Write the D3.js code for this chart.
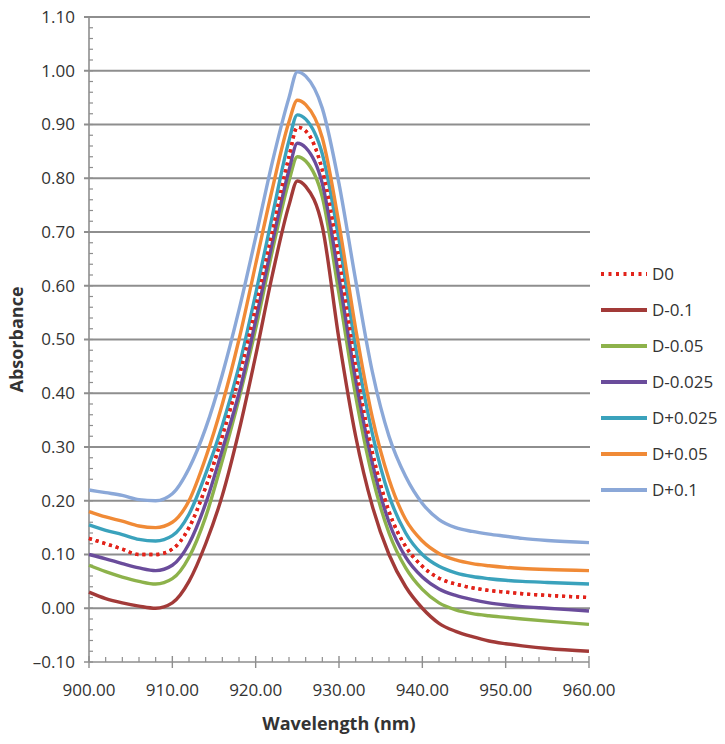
<!DOCTYPE html>
<html lang="en">
<head>
<meta charset="UTF-8">
<title>Absorbance</title>
<script src="https://cdn.jsdelivr.net/npm/d3@7"></script>
<style>
    body { margin: 0; padding: 0; background: white; font-family: "Open Sans", Arial, sans-serif; }
    .tick-label { font-size: 17px; fill: #333; }
    .axis-title { font-size: 18px; font-weight: bold; fill: #333; }
    .legend-label { font-size: 17px; fill: #333; }
</style>
</head>
<body>
<div id="chart"></div>
<script>
// wavelength grid (nm)
const wavelengths = [900, 902, 904, 906, 908, 910, 912, 914, 916, 918, 920, 922, 924, 925, 926, 928, 930, 932, 934, 936, 938, 940, 942, 944, 946, 948, 950, 952, 955, 960];

const seriesNames = ["D0", "D-0.1", "D-0.05", "D-0.025", "D+0.025", "D+0.05", "D+0.1"];
const seriesColors = ["#e2231a", "#a23a38", "#8db24b", "#6a4c9b", "#3aa2bc", "#f08a36", "#8ba8d8"];

const d0     = [0.130, 0.120, 0.110, 0.100, 0.100, 0.110, 0.150, 0.225, 0.320, 0.430, 0.560, 0.700, 0.840, 0.895, 0.888, 0.815, 0.650, 0.450, 0.290, 0.180, 0.115, 0.078, 0.056, 0.045, 0.038, 0.033, 0.030, 0.027, 0.024, 0.020];
const dm01   = [0.030, 0.018, 0.010, 0.004, 0.000, 0.010, 0.050, 0.120, 0.210, 0.330, 0.470, 0.620, 0.750, 0.795, 0.785, 0.710, 0.500, 0.320, 0.190, 0.100, 0.040, 0.000, -0.028, -0.043, -0.053, -0.061, -0.066, -0.070, -0.075, -0.080];
const dm005  = [0.080, 0.068, 0.058, 0.050, 0.045, 0.055, 0.095, 0.170, 0.275, 0.390, 0.520, 0.665, 0.795, 0.840, 0.832, 0.765, 0.585, 0.395, 0.245, 0.140, 0.075, 0.035, 0.010, -0.003, -0.010, -0.014, -0.017, -0.020, -0.024, -0.030];
const dm0025 = [0.100, 0.092, 0.083, 0.075, 0.070, 0.080, 0.120, 0.195, 0.295, 0.400, 0.535, 0.680, 0.815, 0.865, 0.857, 0.790, 0.615, 0.425, 0.270, 0.160, 0.095, 0.058, 0.036, 0.024, 0.016, 0.010, 0.006, 0.003, 0.000, -0.005];
const dp0025 = [0.155, 0.145, 0.137, 0.128, 0.125, 0.135, 0.175, 0.250, 0.340, 0.450, 0.585, 0.730, 0.870, 0.918, 0.910, 0.845, 0.685, 0.485, 0.325, 0.210, 0.140, 0.100, 0.078, 0.066, 0.059, 0.055, 0.052, 0.050, 0.048, 0.045];
const dp005  = [0.180, 0.170, 0.162, 0.153, 0.150, 0.160, 0.200, 0.280, 0.380, 0.500, 0.640, 0.780, 0.905, 0.945, 0.937, 0.875, 0.715, 0.520, 0.355, 0.240, 0.165, 0.125, 0.102, 0.090, 0.083, 0.079, 0.076, 0.074, 0.072, 0.070];
const dp01   = [0.220, 0.215, 0.210, 0.202, 0.200, 0.213, 0.260, 0.335, 0.435, 0.555, 0.690, 0.830, 0.950, 0.998, 0.990, 0.930, 0.790, 0.610, 0.440, 0.320, 0.245, 0.195, 0.165, 0.150, 0.143, 0.138, 0.134, 0.130, 0.126, 0.122];

const seriesValues = [d0, dm01, dm005, dm0025, dp0025, dp005, dp01];

const xTicks = [900, 910, 920, 930, 940, 950, 960];
const yTicks = [-0.10, 0.00, 0.10, 0.20, 0.30, 0.40, 0.50, 0.60, 0.70, 0.80, 0.90, 1.00, 1.10];

const width = 725, height = 744;
const margin = { left: 89, right: 136, top: 17, bottom: 82 };

const svg = d3.select("#chart").append("svg")
    .attr("width", width)
    .attr("height", height)
    .style("background", "white");

const x = d3.scaleLinear().domain([900, 960]).range([margin.left, width - margin.right]);
const y = d3.scaleLinear().domain([-0.10, 1.10]).range([height - margin.bottom, margin.top]);

const fmt = v => (v < 0 ? "\u2013" : "") + Math.abs(v).toFixed(2);

// horizontal gridlines (extend a little left of the axis like the major ticks)
svg.append("g").selectAll("line")
    .data(yTicks.filter(t => t > -0.10))
    .join("line")
    .attr("x1", x(900) - 5).attr("x2", x(960) + 1)
    .attr("y1", d => y(d)).attr("y2", d => y(d))
    .attr("stroke", "#8e8e8e").attr("stroke-width", 2);

// y axis with inner minor ticks
const yMinor = d3.range(-0.10, 1.10, 0.02);
svg.append("g").selectAll("line")
    .data(yMinor)
    .join("line")
    .attr("x1", x(900)).attr("x2", x(900) + 4)
    .attr("y1", d => y(d)).attr("y2", d => y(d))
    .attr("stroke", "#8e8e8e").attr("stroke-width", 1.2);

svg.append("line")
    .attr("x1", x(900)).attr("x2", x(900))
    .attr("y1", y(1.10)).attr("y2", y(-0.10))
    .attr("stroke", "#8e8e8e").attr("stroke-width", 1.6);

svg.append("line")
    .attr("x1", x(900) - 5).attr("x2", x(960))
    .attr("y1", y(-0.10)).attr("y2", y(-0.10))
    .attr("stroke", "#8e8e8e").attr("stroke-width", 1.6);

// x minor ticks (inside) and major ticks (crossing)
const xMinor = d3.range(900, 960.1, 2).filter(v => v % 10 !== 0);
svg.append("g").selectAll("line")
    .data(xMinor)
    .join("line")
    .attr("x1", d => x(d)).attr("x2", d => x(d))
    .attr("y1", y(-0.10) - 5).attr("y2", y(-0.10))
    .attr("stroke", "#8e8e8e").attr("stroke-width", 1.2);

svg.append("g").selectAll("line")
    .data(xTicks)
    .join("line")
    .attr("x1", d => x(d)).attr("x2", d => x(d))
    .attr("y1", y(-0.10) - 6).attr("y2", y(-0.10) + 6)
    .attr("stroke", "#8e8e8e").attr("stroke-width", 1.4);

// tick labels
svg.append("g").selectAll("text")
    .data(yTicks)
    .join("text")
    .attr("class", "tick-label")
    .attr("x", x(900) - 14)
    .attr("y", d => y(d))
    .attr("dy", "0.35em")
    .attr("text-anchor", "end")
    .text(fmt);

svg.append("g").selectAll("text")
    .data(xTicks)
    .join("text")
    .attr("class", "tick-label")
    .attr("x", d => x(d))
    .attr("y", y(-0.10) + 34)
    .attr("text-anchor", "middle")
    .text(d => d.toFixed(2));

// axis titles
svg.append("text")
    .attr("class", "axis-title")
    .attr("x", (x(900) + x(960)) / 2)
    .attr("y", height - 14)
    .attr("text-anchor", "middle")
    .text("Wavelength (nm)");

svg.append("text")
    .attr("class", "axis-title")
    .attr("transform", `translate(23, ${(y(1.10) + y(-0.10)) / 2}) rotate(-90)`)
    .attr("text-anchor", "middle")
    .text("Absorbance");

// series lines
const line = d3.line()
    .x((d, i) => x(wavelengths[i]))
    .y(d => y(d))
    .curve(d3.curveMonotoneX);

seriesValues.forEach((vals, i) => {
    svg.append("path")
        .datum(vals)
        .attr("fill", "none")
        .attr("stroke", seriesColors[i])
        .attr("stroke-width", 3.4)
        .attr("stroke-dasharray", i === 0 ? "3,4" : null)
        .attr("d", line);
});
// keep the dotted D0 visible on top like the original
svg.append("path")
    .datum(d0)
    .attr("fill", "none")
    .attr("stroke", seriesColors[0])
    .attr("stroke-width", 3.4)
    .attr("stroke-dasharray", "3,4")
    .attr("d", line);

// legend
const legend = svg.append("g").attr("transform", "translate(601, 274)");
const items = legend.selectAll("g")
    .data(seriesNames)
    .join("g")
    .attr("transform", (d, i) => `translate(0, ${i * 36})`);

items.append("line")
    .attr("x1", 0).attr("x2", 46)
    .attr("y1", 0).attr("y2", 0)
    .attr("stroke", (d, i) => seriesColors[i])
    .attr("stroke-width", 4)
    .attr("stroke-dasharray", (d, i) => i === 0 ? "3,4.5" : null);

items.append("text")
    .attr("class", "legend-label")
    .attr("x", 51)
    .attr("dy", "0.35em")
    .text(d => d);
</script>
</body>
</html>
